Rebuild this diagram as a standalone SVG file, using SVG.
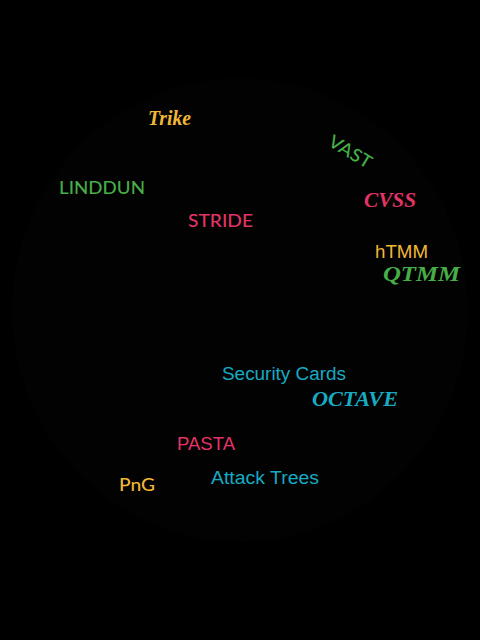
<svg xmlns="http://www.w3.org/2000/svg" width="480" height="640" viewBox="0 0 480 640">
<style>
.s{font-family:"Lato","Liberation Sans",sans-serif;font-size:18px;font-weight:500}
.a{font-family:"Liberation Sans","Arial",sans-serif;font-size:18px}
.c{font-family:"Liberation Serif","DejaVu Serif",serif;font-style:italic;font-weight:bold;font-size:22px}
.y{fill:#f2b736}.g{fill:#46ad48}.p{fill:#e23366}.t{fill:#17aac2}
</style>
<rect width="480" height="640" fill="#000"/>
<ellipse cx="240" cy="310" rx="228" ry="232" fill="#020202"/>
<g id="trike"><text class="c y" x="148" y="125" font-size="20" textLength="43" lengthAdjust="spacingAndGlyphs">Trike</text></g>
<g id="vast"><text class="s g" transform="translate(327,145) rotate(31)" textLength="47" lengthAdjust="spacingAndGlyphs">VAST</text></g>
<g id="linddun"><text class="s g" x="59" y="194" textLength="86" lengthAdjust="spacingAndGlyphs">LINDDUN</text></g>
<g id="stride"><text class="s p" x="188" y="227" textLength="65" lengthAdjust="spacingAndGlyphs">STRIDE</text></g>
<g id="cvss"><text class="c p" x="364" y="207" textLength="52" lengthAdjust="spacingAndGlyphs">CVSS</text></g>
<g id="htmm"><text class="a y" x="375" y="258" font-size="17" textLength="53" lengthAdjust="spacingAndGlyphs">hTMM</text></g>
<g id="qtmm"><text class="c g" x="383" y="281" font-size="20" textLength="77" lengthAdjust="spacingAndGlyphs">QTMM</text></g>
<g id="securitycards"><text class="a t" x="222" y="380" textLength="124" lengthAdjust="spacingAndGlyphs">Security Cards</text></g>
<g id="octave"><text class="c t" x="312" y="406" textLength="86" lengthAdjust="spacingAndGlyphs">OCTAVE</text></g>
<g id="pasta"><text class="a p" x="177" y="450" textLength="58" lengthAdjust="spacingAndGlyphs">PASTA</text></g>
<g id="attacktrees"><text class="a t" x="211" y="484" textLength="108" lengthAdjust="spacingAndGlyphs">Attack Trees</text></g>
<g id="png"><text class="s y" x="119" y="491" textLength="36" lengthAdjust="spacingAndGlyphs">PnG</text></g>
<g id="connectors"></g>
</svg>
